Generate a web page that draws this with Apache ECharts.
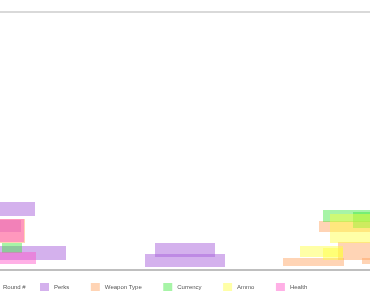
<!DOCTYPE html>
<html>
<head>
<meta charset="utf-8">
<script src="https://cdn.jsdelivr.net/npm/echarts@6/dist/echarts.min.js"></script>
<style>
  html, body { margin: 0; padding: 0; background: #fff; }
  #chart { width: 370px; height: 305px; }
</style>
</head>
<body>
<div id="chart"></div>
<script>
// each box: [xStart, xEnd, yLow, yHigh]
const roundName = "Round #";
const legendNames = ["Perks", "Weapon Type", "Currency", "Ammo", "Health"];
const perks = [
  [-3, 17.5, 27, 34],
  [-3, 33, 5, 12],
  [-3, 10.5, 19, 25],
  [77.5, 107.5, 6.5, 13.5],
  [72.5, 112.5, 1.5, 8],
];
const weaponType = [
  [-3, 12.5, 13.5, 25.5],
  [159.5, 190, 19, 24.5],
  [169, 190, 5, 14],
  [141.5, 172, 2, 6],
  [181, 190, 3, 6],
];
const currency = [
  [1, 11, 8.5, 13.5],
  [161.5, 190, 24, 30],
  [176.5, 190, 21, 29],
];
const ammo = [
  [165, 190, 13.5, 28],
  [150, 171.5, 6.5, 12],
  [161.5, 171.5, 5, 11],
];
const health = [
  [-3, 12, 14, 25.5],
  [-3, 18, 3, 9],
];

const colors = {
  "Perks": "rgba(170,100,220,0.5)",
  "Weapon Type": "rgba(255,160,90,0.45)",
  "Currency": "rgba(60,230,60,0.45)",
  "Ammo": "rgba(255,255,60,0.45)",
  "Health": "rgba(255,80,200,0.45)",
};

function renderBox(params, api) {
  const p0 = api.coord([api.value(0), api.value(3)]);
  const p1 = api.coord([api.value(1), api.value(2)]);
  return {
    type: "rect",
    shape: { x: p0[0], y: p0[1], width: p1[0] - p0[0], height: p1[1] - p0[1] },
    style: api.style(),
  };
}

function boxSeries(name, data) {
  return {
    name: name,
    type: "custom",
    renderItem: renderBox,
    encode: { x: [0, 1], y: [2, 3] },
    itemStyle: { color: colors[name] },
    data: data,
  };
}

const legendText = { fontSize: 6, color: "#555" };

const chart = echarts.init(document.getElementById("chart"));
chart.setOption({
  animation: false,
  textStyle: { fontFamily: "Liberation Sans" },
  legend: [
    {
      data: [roundName],
      bottom: 9,
      left: -7,
      icon: "rect",
      itemWidth: 0,
      itemHeight: 8,
      textStyle: legendText,
    },
    {
      data: legendNames,
      bottom: 9,
      left: 35,
      icon: "rect",
      itemWidth: 9,
      itemHeight: 8,
      itemGap: 21.5,
      textStyle: legendText,
    },
  ],
  grid: { left: 0, right: 0, top: 12, bottom: 35 },
  xAxis: [
    {
      type: "value", min: 0, max: 185,
      axisLine: { show: true, lineStyle: { color: "#aaa", width: 1.5 } },
      axisTick: { show: false }, axisLabel: { show: false }, splitLine: { show: false },
    },
    {
      type: "value", position: "top", min: 0, max: 185,
      axisLine: { show: true, lineStyle: { color: "#ccc", width: 1.5 } },
      axisTick: { show: false }, axisLabel: { show: false }, splitLine: { show: false },
    },
  ],
  yAxis: {
    type: "value", min: 0, max: 129,
    axisLine: { show: false }, axisTick: { show: false },
    axisLabel: { show: false }, splitLine: { show: false },
  },
  series: [
    { name: roundName, type: "line", data: [], itemStyle: { color: "rgba(0,0,0,0)" } },
    boxSeries("Perks", perks),
    boxSeries("Weapon Type", weaponType),
    boxSeries("Currency", currency),
    boxSeries("Ammo", ammo),
    boxSeries("Health", health),
  ],
});
</script>
</body>
</html>
